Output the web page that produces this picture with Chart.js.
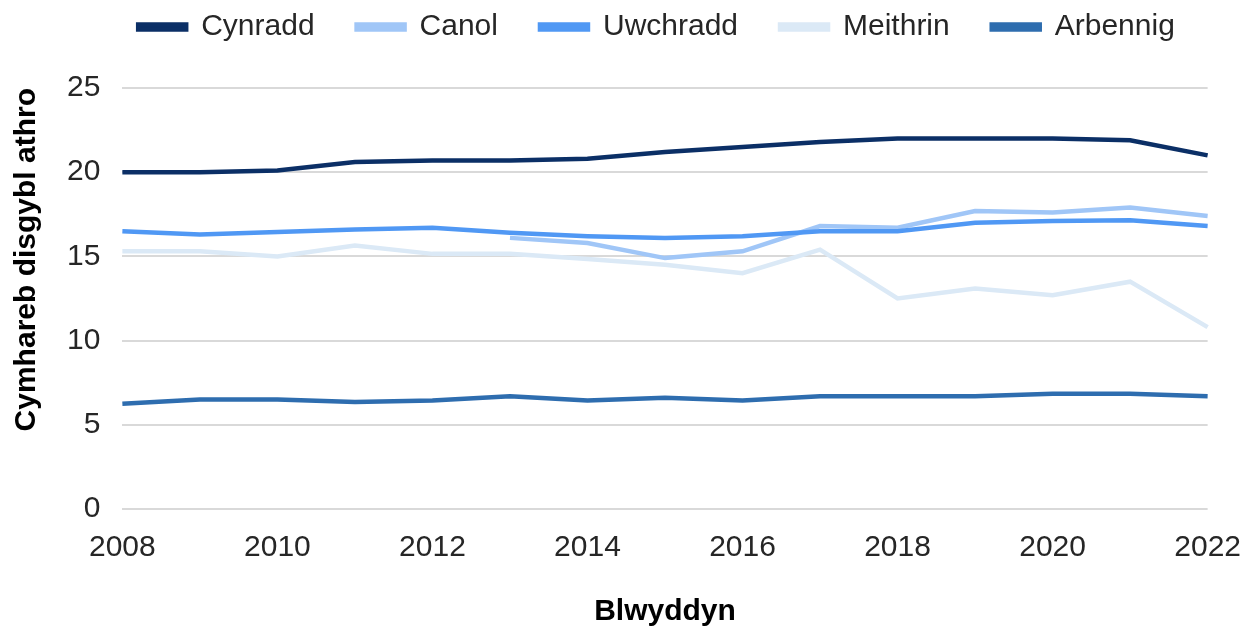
<!DOCTYPE html>
<html>
<head>
<meta charset="utf-8">
<script src="https://cdn.jsdelivr.net/npm/chart.js@4"></script>
<style>
  html, body { margin: 0; padding: 0; background: #fff; }
  #wrap { width: 1254px; height: 627px; }
</style>
</head>
<body>
<div id="wrap"><canvas id="chart" width="1254" height="627"></canvas></div>
<script>
// blynyddoedd
const years = ['2008','2009','2010','2011','2012','2013','2014','2015','2016','2017','2018','2019','2020','2021','2022'];

// cymhareb disgybl athro fesul sector
const cynradd   = [20.0, 20.0, 20.1, 20.6, 20.7, 20.7, 20.8, 21.2, 21.5, 21.8, 22.0, 22.0, 22.0, 21.9, 21.0];
const canol     = [null, null, null, null, null, 16.1, 15.8, 14.9, 15.3, 16.8, 16.7, 17.7, 17.6, 17.9, 17.4];
const uwchradd  = [16.5, 16.3, 16.45, 16.6, 16.7, 16.4, 16.2, 16.1, 16.2, 16.5, 16.5, 17.0, 17.1, 17.15, 16.8];
const meithrin  = [15.3, 15.3, 15.0, 15.65, 15.15, 15.15, 14.85, 14.5, 14.0, 15.4, 12.5, 13.1, 12.7, 13.5, 10.8];
const arbennig  = [6.25, 6.5, 6.5, 6.35, 6.45, 6.7, 6.45, 6.6, 6.45, 6.7, 6.7, 6.7, 6.85, 6.85, 6.7];

const yTicks = [0, 5, 10, 15, 20, 25];

const series = [
  { label: 'Cynradd',  data: cynradd,  color: '#0b2f66' },
  { label: 'Canol',    data: canol,    color: '#a0c6f7' },
  { label: 'Uwchradd', data: uwchradd, color: '#5098f4' },
  { label: 'Meithrin', data: meithrin, color: '#dbe9f6' },
  { label: 'Arbennig', data: arbennig, color: '#2e6daf' }
];

const font = 'Liberation Sans, Arial, sans-serif';

// lle o dan yr allwedd, a'i symud i'r dde
const legendSpace = {
  id: 'legendSpace',
  beforeInit(chart) {
    const fit = chart.legend.fit;
    chart.legend.fit = function () {
      fit.bind(chart.legend)();
      this.height += 36;
    };
  },
  afterLayout(chart) {
    chart.legend.left += 50;
    chart.legend.right += 50;
  }
};

new Chart(document.getElementById('chart').getContext('2d'), {
  type: 'line',
  data: {
    labels: years,
    datasets: series.map((s, i) => ({
      label: s.label,
      data: s.data,
      borderColor: s.color,
      backgroundColor: s.color,
      borderWidth: 4.5,
      pointRadius: 0,
      tension: 0,
      spanGaps: false,
      order: series.length - i   // y gyfres olaf ar ben
    }))
  },
  options: {
    responsive: false,
    animation: false,
    layout: { padding: { left: 5, right: 46, top: -30, bottom: -3 } },
    plugins: {
      tooltip: { enabled: false },
      legend: {
        position: 'top',
        labels: {
          font: { family: font, size: 30 },
          color: '#262626',
          boxWidth: 48,
          boxHeight: 5,
          padding: 42,
          sort: (a, b) => a.datasetIndex - b.datasetIndex
        }
      }
    },
    scales: {
      x: {
        offset: false,
        grid: { display: false },
        border: { display: false },
        ticks: {
          autoSkip: false,
          maxRotation: 0,
          font: { family: font, size: 30 },
          color: '#262626',
          padding: 13,
          callback: function (v, i) { return i % 2 === 0 ? years[i] : ''; }
        },
        title: {
          display: true,
          text: 'Blwyddyn',
          font: { family: font, size: 30, weight: 'bold' },
          color: '#000',
          padding: { top: 15, bottom: 0 }
        }
      },
      y: {
        min: 0,
        max: 25,
        afterBuildTicks: axis => { axis.ticks = yTicks.map(v => ({ value: v })); },
        grid: { color: '#d9d9d9', lineWidth: 2, drawTicks: false },
        border: { display: false },
        ticks: {
          font: { family: font, size: 30 },
          color: '#262626',
          padding: 22
        },
        title: {
          display: true,
          align: 'end',
          text: 'Cymhareb disgybl athro',
          font: { family: font, size: 30, weight: 'bold' },
          color: '#000',
          padding: { top: 4, bottom: 0 }
        }
      }
    }
  },
  plugins: [legendSpace]
});
</script>
</body>
</html>
